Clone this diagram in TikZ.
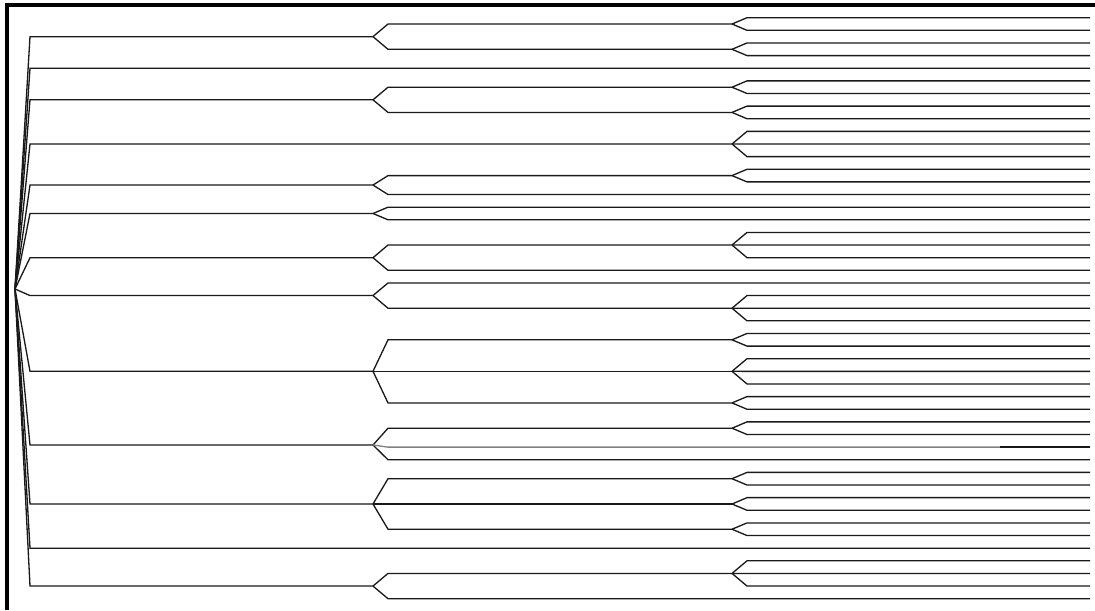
\documentclass[tikz,border=0pt]{standalone}
\usepackage{tikz}
\usetikzlibrary{calc}

\begin{document}
\begin{tikzpicture}[
    x=0.02cm, y=-0.02cm,
    edge/.style={draw=black!90, line width=0.75pt},
    faint/.style={draw=black!50, line width=0.75pt},
    frame/.style={draw, line width=2pt}
  ]
    \useasboundingbox (0,0) rectangle (1095,610);
    \draw[frame] (7,610) -- (7,5) -- (1095,5);

    % leaves
    \foreach \k in {0,...,46}
      \coordinate (l\k) at (1090, 17.7+12.63*\k);
    % root and first level
    \coordinate (root) at (15, 289);
    \coordinate (a) at (373, 36.65);
    \coordinate (c) at (373, 99.8);
    \coordinate (d) at (732, 144.0);
    \coordinate (e) at (373, 185.05);
    \coordinate (f) at (373, 213.5);
    \coordinate (g) at (373, 257.7);
    \coordinate (h) at (373, 295.55);
    \coordinate (i) at (373, 371.3);
    \coordinate (j) at (373, 445.0);
    \coordinate (m) at (373, 504.0);
    \coordinate (o) at (373, 586.05);
    % second level
    \coordinate (a1) at (732, 24.0);
    \coordinate (a2) at (732, 49.3);
    \coordinate (c1) at (732, 87.2);
    \coordinate (c2) at (732, 112.4);
    \coordinate (e1) at (732, 175.6);
    \coordinate (g1) at (732, 245.0);
    \coordinate (h2) at (732, 308.2);
    \coordinate (i1) at (732, 339.8);
    \coordinate (i2) at (732, 371.3);
    \coordinate (i3) at (732, 402.9);
    \coordinate (j1) at (732, 428.2);
    \coordinate (m1) at (732, 478.7);
    \coordinate (m2) at (732, 504.0);
    \coordinate (m3) at (732, 529.2);
    \coordinate (o1) at (732, 573.4);
    \coordinate (cut) at (1000, 17.7+12.63*34);

    \foreach \p/\c in {root/a, root/l4, root/c, root/d, root/e, root/f, root/g,
        root/h, root/i, root/j, root/m, root/l42, root/o,
        a/a1, a/a2, c/c1, c/c2, e/e1, e/l14, f/l15, f/l16, g/g1, g/l20,
        h/l21, h/h2, i/i1, i/i2, i/i3, j/j1, j/l35, m/m1, m/m2, m/m3,
        o/o1, o/l46,
        a1/l0, a1/l1, a2/l2, a2/l3, c1/l5, c1/l6, c2/l7, c2/l8,
        d/l9, d/l10, d/l11, e1/l12, e1/l13, g1/l17, g1/l18, g1/l19,
        h2/l22, h2/l23, h2/l24, i1/l25, i1/l26, i2/l27, i2/l28, i2/l29,
        i3/l30, i3/l31, j1/l32, j1/l33, m1/l36, m1/l37, m2/l38, m2/l39,
        m3/l40, m3/l41, o1/l43, o1/l44, o1/l45}
      \draw[edge] (\p) -- ($(\p |- \c)+(15,0)$) -- (\c);

    \draw[faint] (j) -- ($(j |- l34)+(15,0)$) -- (l34);
    \draw[edge] (cut) -- (l34);
\end{tikzpicture}
\end{document}
